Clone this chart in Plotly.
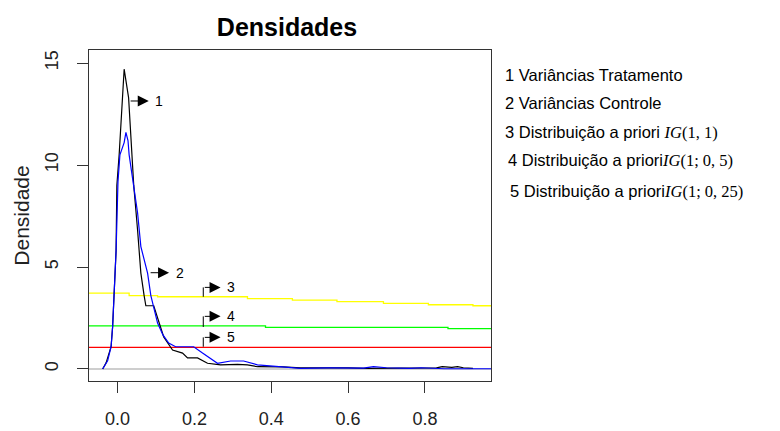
import plotly.graph_objects as go

# ---- data ----
trat_x = [-0.039, -0.030, -0.017, -0.013, -0.004, -0.002, 0.004, 0.0086, 0.013, 0.017,
          0.0286, 0.037, 0.042, 0.052, 0.0605, 0.069, 0.0735, 0.094, 0.104, 0.120,
          0.143, 0.169, 0.182, 0.208, 0.234, 0.268, 0.312, 0.338, 0.364, 0.400,
          0.430, 0.476, 0.550, 0.600, 0.650, 0.700, 0.760, 0.800, 0.830, 0.845,
          0.870, 0.885, 0.900, 0.925]
trat_y = [0.0, 0.3, 1.09, 2.07, 5.8, 9.0, 10.5, 12.1, 13.8, 14.7,
          13.3, 10.2, 9.0, 6.8, 4.7, 3.6, 3.1, 3.1, 2.55, 1.57,
          0.93, 0.78, 0.54, 0.54, 0.28, 0.20, 0.23, 0.20, 0.11, 0.12,
          0.10, 0.05, 0.07, 0.05, 0.03, 0.04, 0.02, 0.03, 0.05, 0.11,
          0.08, 0.11, 0.06, 0.03]

ctrl_x = [-0.039, -0.026, -0.017, -0.013, -0.004, 0.001, 0.006, 0.017, 0.0216, 0.027,
          0.030, 0.0416, 0.052, 0.0605, 0.078, 0.0865, 0.104, 0.118, 0.133, 0.151,
          0.198, 0.221, 0.260, 0.294, 0.328, 0.364, 0.400, 0.430, 0.476, 0.550,
          0.600, 0.640, 0.666, 0.700, 0.760, 0.790, 0.850, 0.900, 1.000]
ctrl_y = [0.0, 0.4, 1.09, 2.07, 5.8, 9.2, 10.5, 11.1, 11.6, 11.2,
          10.5, 9.0, 7.65, 6.0, 4.7, 3.6, 2.25, 1.67, 1.27, 1.09,
          1.09, 0.78, 0.28, 0.39, 0.39, 0.20, 0.15, 0.10, 0.03, 0.05,
          0.03, 0.04, 0.11, 0.06, 0.03, 0.06, 0.01, 0.01, 0.01]

ig11_x = [-0.0745, 0.030, 0.104, 0.338, 0.455, 0.571, 0.692, 0.809, 0.925, 0.972]
ig11_y = [3.72, 3.60, 3.54, 3.45, 3.38, 3.30, 3.22, 3.15, 3.10, 3.08]

ig105_x = [-0.0745, 0.385, 0.860, 0.972]
ig105_y = [2.11, 2.04, 1.98, 1.98]

ig1025_x = [-0.0745, 0.972]
ig1025_y = [1.06, 1.06]

zero_x = [-0.0745, 0.972]
zero_y = [0.0, 0.0]

x_ticks = [0.0, 0.2, 0.4, 0.6, 0.8]
x_tick_labels = ["0.0", "0.2", "0.4", "0.6", "0.8"]
y_ticks = [0, 5, 10, 15]
y_tick_labels = ["0", "5", "10", "15"]

SERIF = "font-family:'Liberation Serif'"
legend_lines = [
    "1 Variâncias Tratamento",
    "2 Variâncias Controle",
    f"3 Distribuição a priori <span style=\"{SERIF}\"><i>IG</i>(1, 1)</span>",
    f"4 Distribuição a priori<span style=\"{SERIF}\"><i>IG</i>(1; 0, 5)</span>",
    f"5 Distribuição a priori<span style=\"{SERIF}\"><i>IG</i>(1; 0, 25)</span>",
]

# arrow labels: (tail x, y, tip x, label)
straight_arrows = [
    (0.030, 13.14, 0.081, "1"),
    (0.082, 4.72, 0.134, "2"),
]
# bent arrows: (x, y bottom, y top, tip x, label)
bent_arrows = [
    (0.223, 3.54, 4.00, 0.268, "3"),
    (0.223, 2.06, 2.58, 0.268, "4"),
    (0.223, 1.09, 1.55, 0.268, "5"),
]

# the page body has an 8px default margin: figure is sized to fit the window
W, H = 772, 423
OFF = 8

fig = go.Figure()
fig.add_trace(go.Scatter(x=zero_x, y=zero_y, mode="lines",
                         line=dict(color="#bebebe", width=1.5), showlegend=False))
fig.add_trace(go.Scatter(x=ig11_x, y=ig11_y, mode="lines", line_shape="hv",
                         line=dict(color="#ffff00", width=1.3), showlegend=False))
fig.add_trace(go.Scatter(x=ig105_x, y=ig105_y, mode="lines", line_shape="hv",
                         line=dict(color="#00ff00", width=1.3), showlegend=False))
fig.add_trace(go.Scatter(x=ig1025_x, y=ig1025_y, mode="lines",
                         line=dict(color="#ff0000", width=1.3), showlegend=False))
fig.add_trace(go.Scatter(x=trat_x, y=trat_y, mode="lines",
                         line=dict(color="black", width=1.2), showlegend=False))
fig.add_trace(go.Scatter(x=ctrl_x, y=ctrl_y, mode="lines",
                         line=dict(color="#0000ff", width=1.2), showlegend=False))

annotations = []
shapes = []
lab_font = dict(size=14, color="black", family="Liberation Sans")
for tx, ty, hx, lab in straight_arrows:
    annotations.append(dict(x=hx, y=ty, ax=tx, ay=ty, xref="x", yref="y",
                            axref="x", ayref="y", text="", showarrow=True,
                            arrowhead=2, arrowsize=2.2, arrowwidth=1, arrowcolor="black"))
    annotations.append(dict(x=hx + 0.012, y=ty, xref="x", yref="y", text=lab,
                            showarrow=False, xanchor="left", yanchor="middle",
                            font=lab_font))
for bx, yb, yt, hx, lab in bent_arrows:
    shapes.append(dict(type="line", x0=bx, x1=bx, y0=yb, y1=yt, xref="x", yref="y",
                       line=dict(color="black", width=1)))
    annotations.append(dict(x=hx, y=yt, ax=bx, ay=yt, xref="x", yref="y",
                            axref="x", ayref="y", text="", showarrow=True,
                            arrowhead=2, arrowsize=2.2, arrowwidth=1, arrowcolor="black"))
    annotations.append(dict(x=hx + 0.012, y=yt, xref="x", yref="y", text=lab,
                            showarrow=False, xanchor="left", yanchor="middle",
                            font=lab_font))

legend_x = [1.030, 1.030, 1.030, 1.037, 1.042]
legend_y = [0.925, 0.840, 0.752, 0.665, 0.574]
for lx, ly, txt in zip(legend_x, legend_y, legend_lines):
    annotations.append(dict(x=lx, y=ly, xref="paper", yref="paper", text=txt,
                            showarrow=False, xanchor="left", yanchor="middle",
                            font=dict(size=16.5, color="black", family="Liberation Sans")))

fig.update_layout(
    width=W, height=H,
    margin=dict(l=89 - OFF, r=289, t=50 - OFF, b=50, autoexpand=False),
    paper_bgcolor="white", plot_bgcolor="white",
    title=dict(text="<b>Densidades</b>", x=(287 - OFF) / W, xanchor="center",
               y=1 - (27 - OFF) / H, yanchor="middle",
               font=dict(size=25, color="black", family="Liberation Sans")),
    font=dict(family="Liberation Sans", color="black"),
    annotations=annotations, shapes=shapes,
)
fig.update_xaxes(range=[-0.0745, 0.972], tickmode="array", tickvals=x_ticks,
                 ticktext=x_tick_labels, ticks="outside", ticklen=11, tickwidth=1,
                 tickcolor="#333", showline=True, linecolor="#333", linewidth=1,
                 mirror=True, showgrid=False, zeroline=False, ticklabelstandoff=10,
                 tickfont=dict(size=18, color="#222"))
fig.update_yaxes(range=[-0.59, 15.64], tickmode="array", tickvals=y_ticks,
                 ticktext=y_tick_labels, ticks="outside", ticklen=11, tickwidth=1,
                 tickcolor="#333", showline=True, linecolor="#333", linewidth=1,
                 mirror=True, showgrid=False, zeroline=False, tickangle=-90,
                 ticklabelstandoff=12,
                 tickfont=dict(size=18, color="#222"),
                 title=dict(text="Densidade", font=dict(size=21, color="#222"), standoff=6))

fig.write_html("out.html")
